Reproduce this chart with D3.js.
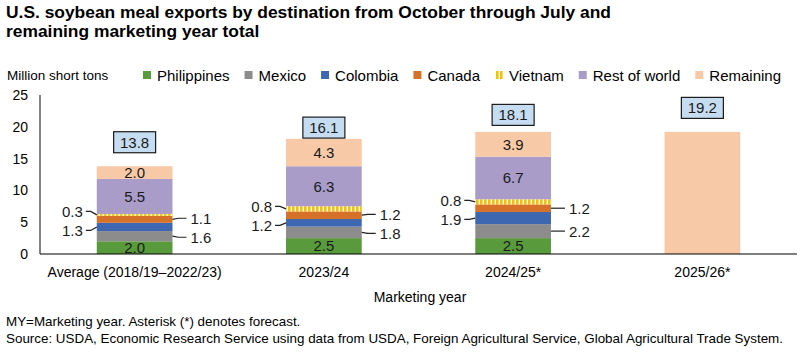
<!DOCTYPE html>
<html>
<head>
<meta charset="utf-8">
<script src="https://cdn.jsdelivr.net/npm/d3@7"></script>
<style>
  html, body { margin: 0; padding: 0; background: #fff; }
  svg { display: block; font-family: "Liberation Sans", Arial, sans-serif; }
</style>
</head>
<body>
<svg id="chart" width="802" height="356"></svg>
<script>
// ---- Data ----
const categories = ["Average (2018/19\u20132022/23)", "2023/24", "2024/25*", "2025/26*"];
const seriesNames = ["Philippines", "Mexico", "Colombia", "Canada", "Vietnam", "Rest of world", "Remaining"];
const philippines = [2.0, 2.5, 2.5, 0];
const mexico      = [1.6, 1.8, 2.2, 0];
const colombia    = [1.3, 1.2, 1.9, 0];
const canada      = [1.1, 1.2, 1.2, 0];
const vietnam     = [0.3, 0.8, 0.8, 0];
const restOfWorld = [5.5, 6.3, 6.7, 0];
const remaining   = [2.0, 4.3, 3.9, 19.2];
const totalLabels = ["13.8", "16.1", "18.1", "19.2"];
const yTicks = [0, 5, 10, 15, 20, 25];

const seriesValues = [philippines, mexico, colombia, canada, vietnam, restOfWorld, remaining];
const colors = ["#589a3c", "#8c8c8c", "#3d68b1", "#d6712a", "url(#vietPat)", "#a99cc9", "#f8c9a6"];
// label placement per series
const labelPos = ["in", "right", "left", "right", "left", "in", "in"];

const rows = categories.map((c, i) => {
  const r = { cat: c };
  seriesNames.forEach((s, j) => r[s] = seriesValues[j][i]);
  return r;
});

const svg = d3.select("#chart");
const defs = svg.append("defs");
const pat = defs.append("pattern").attr("id", "vietPat").attr("patternUnits", "userSpaceOnUse")
  .attr("width", 4).attr("height", 8);
pat.append("rect").attr("width", 4).attr("height", 8).attr("fill", "#fff");
pat.append("rect").attr("x", 0).attr("width", 2.6).attr("height", 8).attr("fill", "#f2c200");

const x = d3.scaleBand().domain(categories).range([40, 797]).paddingInner(0.6).paddingOuter(0.3);
const y = d3.scaleLinear().domain([0, 25]).range([254, 95]);

// Title
const title = svg.append("g").attr("font-weight", "bold").attr("font-size", 17.4).attr("fill", "#000");
title.append("text").attr("x", 6).attr("y", 18).text("U.S. soybean meal exports by destination from October through July and");
title.append("text").attr("x", 6).attr("y", 37).text("remaining marketing year total");

// Unit label
svg.append("text").attr("x", 7).attr("y", 80).attr("font-size", 13.5).attr("fill", "#000").text("Million short tons");

// Legend
const legend = svg.append("g").attr("font-size", 15).attr("fill", "#000");
let lx = 143;
seriesNames.forEach((s, j) => {
  const g = legend.append("g");
  g.append("rect").attr("x", lx).attr("y", 71).attr("width", 8).attr("height", 8).attr("fill", colors[j]);
  const t = g.append("text").attr("x", lx + 14).attr("y", 81).text(s);
  const w = t.node().getComputedTextLength();
  lx = lx + 14 + w + 15;
});

// Y axis
const yAxis = svg.append("g");
yAxis.append("line").attr("x1", 40).attr("x2", 40).attr("y1", y(25)).attr("y2", y(0)).attr("stroke", "#595959").attr("stroke-width", 1.5);
yAxis.selectAll("text").data(yTicks).join("text")
  .attr("x", 28).attr("y", d => y(d)).attr("dy", "0.35em").attr("text-anchor", "end")
  .attr("font-size", 14).attr("fill", "#000").text(d => d);

// Stacked bars
const stack = d3.stack().keys(seriesNames)(rows);
const barsG = svg.append("g");
stack.forEach((layer, j) => {
  barsG.selectAll(null).data(layer.filter(d => d[1] - d[0] > 0)).join("rect")
    .attr("x", d => x(d.data.cat))
    .attr("width", x.bandwidth())
    .attr("y", d => y(d[1]))
    .attr("height", d => y(d[0]) - y(d[1]))
    .attr("fill", colors[j]);
});

// X axis
svg.append("line").attr("x1", 40).attr("x2", 797).attr("y1", y(0)).attr("y2", y(0)).attr("stroke", "#000").attr("stroke-width", 1.2);
svg.append("g").selectAll("text").data(categories).join("text")
  .attr("x", d => x(d) + x.bandwidth() / 2).attr("y", 277).attr("text-anchor", "middle")
  .attr("font-size", 14).attr("fill", "#000").text(d => d);
svg.append("text").attr("x", 420).attr("y", 302).attr("text-anchor", "middle").attr("font-size", 14).attr("fill", "#000").text("Marketing year");

// Segment labels
const lab = svg.append("g").attr("font-size", 15).attr("fill", "#1a1a1a");
function spread(items) {
  if (items.length === 2) {
    const minGap = 19;
    const a = items[0], b = items[1];
    if (b.ly - a.ly < minGap) {
      const mid = (a.ly + b.ly) / 2;
      a.ly = mid - minGap / 2; b.ly = mid + minGap / 2;
    }
  }
}
categories.forEach((c, i) => {
  const x0 = x(c), x1 = x(c) + x.bandwidth(), xm = x0 + x.bandwidth() / 2;
  const left = [], right = [];
  stack.forEach((layer, j) => {
    const d = layer[i];
    const v = d[1] - d[0];
    if (v <= 0) return;
    const segY = y((d[0] + d[1]) / 2);
    const item = { txt: d3.format(".1f")(v), segY, ly: segY };
    if (labelPos[j] === "in") {
      if (i === 3) return;
      lab.append("text").attr("x", xm).attr("y", segY).attr("dy", "0.36em").attr("text-anchor", "middle").text(item.txt);
    } else if (labelPos[j] === "left") left.push(item);
    else right.push(item);
  });
  [left, right].forEach(arr => { arr.sort((a, b) => a.segY - b.segY); spread(arr); });
  left.forEach(it => {
    lab.append("text").attr("x", x0 - 14).attr("y", it.ly).attr("dy", "0.36em").attr("text-anchor", "end").text(it.txt);
    lab.append("path").attr("d", `M${x0 - 11},${it.ly} H${x0 - 6} L${x0},${it.segY}`)
      .attr("fill", "none").attr("stroke", "#222").attr("stroke-width", 1.2);
  });
  right.forEach(it => {
    lab.append("text").attr("x", x1 + 18).attr("y", it.ly).attr("dy", "0.36em").attr("text-anchor", "start").text(it.txt);
    lab.append("path").attr("d", `M${x1},${it.segY} L${x1 + 6},${it.ly} H${x1 + 14}`)
      .attr("fill", "none").attr("stroke", "#222").attr("stroke-width", 1.2);
  });
});

// Total label boxes
const boxes = svg.append("g");
categories.forEach((c, i) => {
  const cx = x(c) + x.bandwidth() / 2;
  const cy = y(+totalLabels[i]) - 24;
  boxes.append("rect").attr("x", cx - 21).attr("y", cy - 10.5).attr("width", 42).attr("height", 21)
    .attr("fill", "#c6dcf1").attr("stroke", "#1a1a1a").attr("stroke-width", 1.2);
  boxes.append("text").attr("x", cx).attr("y", cy).attr("dy", "0.36em").attr("text-anchor", "middle")
    .attr("font-size", 15).attr("fill", "#1a1a1a").text(totalLabels[i]);
});

// Footnotes
const foot = svg.append("g").attr("font-size", 13.4).attr("fill", "#000");
foot.append("text").attr("x", 6).attr("y", 326).text("MY=Marketing year. Asterisk (*) denotes forecast.");
foot.append("text").attr("x", 6).attr("y", 343).text("Source: USDA, Economic Research Service using data from USDA, Foreign Agricultural Service, Global Agricultural Trade System.");
</script>
</body>
</html>
